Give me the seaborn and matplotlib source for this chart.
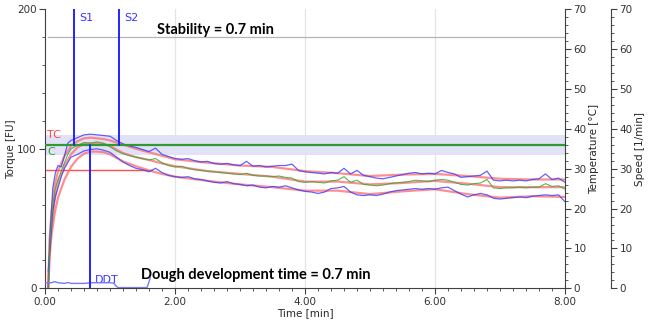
import matplotlib
matplotlib.use('Agg')
import matplotlib.pyplot as plt
import seaborn as sns
import pandas as pd
from matplotlib.ticker import MultipleLocator, FormatStrFormatter

# ---------------- data ----------------
t_rise = [0.05, 0.08, 0.12, 0.16, 0.2, 0.25, 0.3, 0.35, 0.4]
t_main = [round(0.5 + 0.1 * i, 2) for i in range(76)]
time_noisy = t_rise + t_main

upper_blue = [0, 40, 72, 83, 88, 87, 95, 104, 106,
              108, 110, 110.5, 110, 109.5, 109, 106, 103.5, 102, 101,
              99.5, 98, 100.5, 96, 94.5, 93, 92.5, 93, 91.5, 90.5,
              91, 89.5, 89, 89.5, 88.5, 88, 91, 87.5, 88, 87,
              87.5, 88, 88, 89, 84.5, 83.5, 83, 82.5, 82, 83,
              82.5, 86, 82, 84.5, 81, 80, 79, 78.5, 79.5, 80.5,
              81.5, 82.5, 83, 82, 82.5, 82, 84.5, 83, 82, 79.5,
              80, 80.5, 81, 84, 77.5, 77, 77.5, 77, 77.5, 77,
              78, 78.5, 82, 78, 79, 76]
median_green = [0, 35, 60, 72, 78, 84, 90, 96, 100,
                102.5, 104.5, 104, 105, 104, 101.5, 98.5, 96.5, 95, 94,
                93, 92, 93, 90, 88, 87, 87.5, 86, 85, 84.5,
                84, 83.5, 83, 82.5, 82, 81.5, 82.5, 81, 80.5, 80.5,
                80, 80.5, 79.5, 79, 76.5, 76, 76.5, 76, 75.5, 77,
                77.5, 80, 76, 77.5, 74.5, 74, 73.5, 74, 75, 75.5,
                76, 76.5, 77.5, 77, 76.5, 77.5, 78, 77.5, 76, 74.5,
                74, 75, 75.5, 78, 72, 71.5, 72, 72, 72.5, 72,
                72.5, 72.5, 75, 73, 73.5, 71]
lower_blue = [12, 30, 55, 66, 72, 80, 86, 90, 94,
              96, 98.5, 99.5, 100, 99, 97.5, 94, 90.5, 88, 86,
              85, 83.5, 86, 83, 81, 80, 79.5, 80, 78.5, 78,
              77, 76, 75.5, 76.5, 75, 74.5, 73.5, 74, 72.5, 72,
              73, 72.5, 73.5, 72, 70.5, 69.5, 69, 68, 69, 71.5,
              72, 73, 69, 67, 66.5, 67, 66.5, 67.5, 69, 70,
              70.5, 71, 71.5, 71, 71.5, 71, 72, 72.5, 70, 67.5,
              65.5, 67, 68, 67, 64.5, 64, 64.5, 65, 65.5, 65,
              66, 66.5, 67, 66.5, 67, 62]

time_smooth = [0.05, 0.07, 0.1, 0.15, 0.2, 0.3, 0.4, 0.5, 0.6, 0.7, 0.8, 0.9,
               1.0, 1.2, 1.4, 1.6, 1.8, 2.0, 2.5, 3.0, 3.5, 4.0, 4.5, 5.0,
               5.5, 6.0, 6.5, 7.0, 7.5, 8.0]
red_upper = [0, 35, 55, 74, 84, 95, 102, 105.5, 107.5, 108, 107.5, 107,
             106, 103, 100, 97.5, 95, 92.5, 90, 88, 87, 84, 82.5, 80.5,
             81.5, 82, 80.5, 78.5, 78, 78]
red_mid = [0, 28, 45, 64, 76, 88, 96, 101, 103.5, 104, 104, 103.5,
           102, 97, 94, 92, 89.5, 87.5, 84, 82, 80, 76.5, 76.5, 74.5,
           75.5, 77, 75, 72.5, 72.5, 72.5]
red_lower = [0, 22, 38, 54, 65, 78, 87, 93, 96.5, 98, 98, 97.5,
             96, 91, 87.5, 84.5, 82, 80, 77, 74.5, 72.5, 70, 70, 67.5,
             69.5, 71, 67.5, 65, 66, 65.5]

time_trace = [0.0, 0.1, 0.15, 0.2, 0.3, 0.35, 0.4, 0.6, 0.7, 0.8, 1.0, 1.05,
              1.12, 1.3, 1.5, 1.57, 1.62]
trace_vals = [4, 4, 4.8, 4, 3.5, 4.2, 3.5, 3.5, 4, 4, 4, 3.8,
              0.5, 0.5, 0.5, 0.5, 7.5]

consistency = 103      # C line
band_low, band_high = 95.5, 110
tc_level = 85
ref_level = 180
s1, s2, ddt = 0.44, 1.14, 0.69

# ---------------- style ----------------
sns.set_style('white')
plt.rcParams['font.family'] = ['DejaVu Sans']
plt.rcParams['axes.edgecolor'] = '#404040'
plt.rcParams['xtick.color'] = '#404040'
plt.rcParams['ytick.color'] = '#404040'
plt.rcParams['xtick.labelcolor'] = '#333333'
plt.rcParams['ytick.labelcolor'] = '#333333'

fig = plt.figure(figsize=(6.53, 3.27), dpi=100)
ax = fig.add_axes([45 / 653, 38.7 / 327, 520 / 653, 279 / 327])

ax.set_xlim(0, 8)
ax.set_ylim(0, 200)

# grid lines at major x ticks
for gx in [2, 4, 6]:
    ax.axvline(gx, color='#e4e4e4', lw=0.9, zorder=0)

# band and horizontal reference lines
ax.axhspan(band_low, band_high, color='#e2e2f7', zorder=0.5, lw=0)
ax.axhline(ref_level, xmin=0.05 / 8, xmax=1, color='#b5b5b5', lw=0.9, zorder=1)
ax.plot([0, 1.65], [tc_level, tc_level], color='#ff5050', lw=1.0, zorder=2)

# curves
df_n = pd.DataFrame({'t': time_noisy, 'ub': upper_blue, 'gm': median_green, 'lb': lower_blue})
df_s = pd.DataFrame({'t': time_smooth, 'ru': red_upper, 'rm': red_mid, 'rl': red_lower})
df_tr = pd.DataFrame({'t': time_trace, 'v': trace_vals})

for col in ['ru', 'rm', 'rl']:
    sns.lineplot(data=df_s, x='t', y=col, ax=ax, color='#ff6a6a', lw=1.6, alpha=0.75, zorder=3)
sns.lineplot(data=df_n, x='t', y='ub', ax=ax, color='#3b3bff', lw=0.9, alpha=0.8, zorder=4)
sns.lineplot(data=df_n, x='t', y='lb', ax=ax, color='#3b3bff', lw=0.9, alpha=0.8, zorder=4)
sns.lineplot(data=df_n, x='t', y='gm', ax=ax, color='#3aa83a', lw=0.8, alpha=0.85, zorder=4)
sns.lineplot(data=df_tr, x='t', y='v', ax=ax, color='#7878ff', lw=1.0, zorder=4)

ax.axhline(consistency, color='#2f9a2f', lw=1.6, zorder=5)

# vertical markers
ax.plot([s1, s1], [consistency, 200], color='#2222ff', lw=1.4, zorder=6)
ax.plot([s2, s2], [consistency, 200], color='#2222ff', lw=1.4, zorder=6)
ax.plot([ddt, ddt], [0, consistency], color='#2222ff', lw=1.4, zorder=6)

# annotations
ax.text(0.53, 194, 'S1', color='#3535ff', fontsize=8, va='center', ha='left')
ax.text(1.22, 194, 'S2', color='#3535ff', fontsize=8, va='center', ha='left')
ax.text(0.77, 6, 'DDT', color='#3535ff', fontsize=8, va='center', ha='left')
ax.text(0.03, 110, 'TC', color='#ff4444', fontsize=8, va='center', ha='left')
ax.text(0.03, 97.5, 'C', color='#33a033', fontsize=8, va='center', ha='left')
ax.text(1.72, 185, 'Stability = 0.7 min', fontsize=10.5, fontweight='bold',
        family=['Lato', 'DejaVu Sans'], va='center', ha='left', color='black')
ax.text(1.47, 9.5, 'Dough development time = 0.7 min', fontsize=10.5, fontweight='bold',
        family=['Lato', 'DejaVu Sans'], va='center', ha='left', color='black')

# axes formatting
ax.xaxis.set_major_locator(MultipleLocator(2))
ax.xaxis.set_minor_locator(MultipleLocator(0.2))
ax.xaxis.set_major_formatter(FormatStrFormatter('%.2f'))
ax.yaxis.set_major_locator(MultipleLocator(100))
ax.yaxis.set_minor_locator(MultipleLocator(20))
ax.tick_params(axis='both', which='major', length=4, width=0.8, labelsize=7.5, pad=2)
ax.tick_params(axis='both', which='minor', length=2.5, width=0.6)
ax.tick_params(axis='x', which='both', direction='out', bottom=True)
ax.tick_params(axis='y', which='both', direction='out', left=True)
ax.set_xlabel('Time [min]', fontsize=7.5, labelpad=1)
ax.set_ylabel('Torque [FU]', fontsize=7.5, labelpad=1)
ax.spines['top'].set_visible(False)
ax.spines['right'].set_visible(False)

ax2 = ax.twinx()
ax2.set_ylim(0, 70)
ax3 = ax.twinx()
ax3.set_ylim(0, 70)
ax3.spines['right'].set_position(('axes', 1.0885))
for a, lab in [(ax2, 'Temperature [°C]'), (ax3, 'Speed [1/min]')]:
    a.yaxis.set_major_locator(MultipleLocator(10))
    a.yaxis.set_minor_locator(MultipleLocator(2))
    a.tick_params(axis='y', which='major', length=4, width=0.8, labelsize=7.5, pad=2, direction='out', right=True)
    a.tick_params(axis='y', which='minor', length=2.5, width=0.6, direction='out', right=True)
    a.spines['top'].set_visible(False)
    a.spines['left'].set_visible(False)
    a.spines['bottom'].set_visible(False)
    a.spines['right'].set_visible(True)
    a.set_ylabel(lab, fontsize=7.5, labelpad=2)

fig.savefig('out.png', dpi=100)
